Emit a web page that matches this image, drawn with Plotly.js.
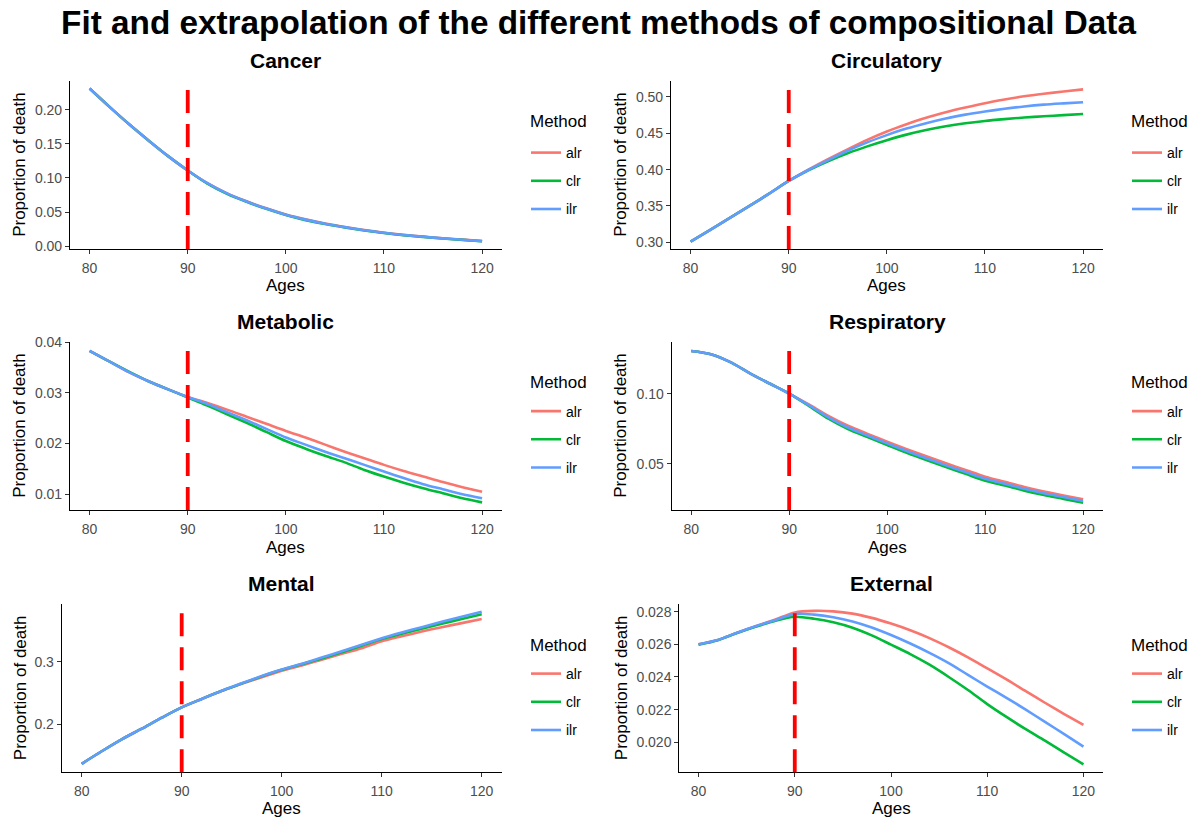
<!DOCTYPE html>
<html><head><meta charset="utf-8">
<script src="https://cdn.plot.ly/plotly-3.0.1.min.js"></script>
<style>html,body{margin:0;padding:0;background:#fff}#chart{width:1197px;height:818px}</style>
</head><body><div id="chart"></div>
<script>
// ---------------- DATA ----------------
const ages = [80,82,84,86,88,90,92,94,96,98,100,102,104,106,108,110,112,114,116,118,120];
const methods = ['alr','clr','ilr'];
const panelNames = ['Cancer','Circulatory','Metabolic','Respiratory','Mental','External'];
const fitEndAge = 90;

const cancerAlr = [0.231,0.2045,0.179,0.155,0.132,0.111,0.0925,0.0775,0.0659,0.0556,0.0466,0.0394,0.0334,0.0283,0.0238,0.0199,0.0167,0.0141,0.0118,0.0097,0.0077];
const cancerClr = [0.231,0.2045,0.179,0.155,0.132,0.111,0.0918,0.0768,0.0652,0.0548,0.0458,0.0383,0.0325,0.0276,0.0232,0.0194,0.0162,0.0137,0.0114,0.0094,0.0074];
const cancerIlr = [0.231,0.2045,0.179,0.155,0.132,0.111,0.0925,0.0775,0.0655,0.0552,0.0462,0.039,0.033,0.028,0.0235,0.0197,0.0165,0.0139,0.0116,0.0096,0.0076];

const circAlr = [0.301,0.317,0.3335,0.350,0.367,0.3844,0.400,0.4145,0.428,0.441,0.4525,0.4625,0.4715,0.479,0.4855,0.4915,0.4965,0.501,0.5045,0.5075,0.5105];
const circClr = [0.301,0.317,0.3335,0.350,0.367,0.3844,0.399,0.4115,0.4225,0.432,0.4405,0.4482,0.4545,0.4597,0.4638,0.467,0.4695,0.4717,0.4735,0.475,0.4765];
const circIlr = [0.301,0.317,0.3335,0.350,0.367,0.3844,0.3995,0.413,0.426,0.4375,0.4475,0.4565,0.464,0.4705,0.4757,0.48,0.4838,0.487,0.4895,0.4912,0.4927];

const metaAlr = [0.0383,0.0362,0.0341,0.0323,0.0307,0.0292,0.028,0.0267,0.0253,0.0239,0.0225,0.0212,0.0198,0.0184,0.0171,0.0158,0.0146,0.0135,0.0124,0.0114,0.0105];
const metaClr = [0.0383,0.0362,0.0342,0.0323,0.0307,0.0291,0.0275,0.0258,0.0241,0.0223,0.0205,0.019,0.0176,0.0163,0.0148,0.0135,0.0123,0.0112,0.0102,0.0092,0.0084];
const metaIlr = [0.0383,0.0362,0.0341,0.0323,0.0307,0.0292,0.0278,0.0262,0.0246,0.0229,0.0212,0.0198,0.0184,0.0171,0.0158,0.0145,0.0132,0.012,0.011,0.01,0.0092];

const respAlr = [0.1308,0.1285,0.1228,0.1148,0.1075,0.1003,0.0925,0.0843,0.0772,0.0714,0.0658,0.0604,0.0553,0.0503,0.0455,0.0407,0.037,0.0333,0.03,0.0272,0.0245];
const respClr = [0.1308,0.1285,0.1228,0.1148,0.1075,0.1003,0.0915,0.0823,0.0749,0.0691,0.0634,0.0578,0.0526,0.0476,0.0427,0.0378,0.0343,0.0307,0.0275,0.0248,0.022];
const respIlr = [0.1308,0.1285,0.1228,0.1148,0.1075,0.1003,0.092,0.0833,0.076,0.0702,0.0646,0.0591,0.0539,0.0488,0.044,0.0392,0.0357,0.032,0.0288,0.0261,0.0233];

const mentAlr = [0.137,0.157,0.176,0.193,0.2105,0.227,0.2405,0.253,0.2645,0.275,0.2855,0.294,0.303,0.3125,0.3215,0.3325,0.3405,0.348,0.355,0.3615,0.368];
const mentClr = [0.137,0.157,0.176,0.193,0.2105,0.227,0.2405,0.2535,0.265,0.2765,0.287,0.296,0.305,0.3148,0.3255,0.336,0.3445,0.3525,0.3605,0.368,0.3755];
const mentIlr = [0.137,0.157,0.176,0.193,0.2105,0.227,0.2405,0.2535,0.2655,0.277,0.2875,0.2965,0.3065,0.3165,0.327,0.3375,0.3465,0.355,0.3635,0.3715,0.3795];

const extAlr = [0.026,0.02627,0.02671,0.02712,0.02752,0.02795,0.02805,0.02802,0.02788,0.02762,0.02727,0.02686,0.02638,0.02582,0.0252,0.02453,0.02385,0.02313,0.02242,0.02173,0.02106];
const extClr = [0.02598,0.02625,0.02669,0.02709,0.02745,0.02769,0.02757,0.02735,0.02702,0.02655,0.02598,0.0254,0.02475,0.024,0.0232,0.02234,0.02155,0.0208,0.0201,0.01937,0.01865];
const extIlr = [0.026,0.02627,0.02671,0.02712,0.02749,0.02786,0.02782,0.02766,0.0274,0.02703,0.02657,0.02605,0.02548,0.02485,0.02413,0.02341,0.02272,0.022,0.02125,0.0205,0.01973];

const panelSeries = [
  [cancerAlr, cancerClr, cancerIlr],
  [circAlr, circClr, circIlr],
  [metaAlr, metaClr, metaIlr],
  [respAlr, respClr, respIlr],
  [mentAlr, mentClr, mentIlr],
  [extAlr, extClr, extIlr]
];

// ---------------- STYLE / LAYOUT ----------------
const FONT = 'Liberation Sans, Arial, Helvetica, sans-serif';
const colors = {alr:'#F8766D', clr:'#00BA38', ilr:'#619CFF'};
const W = 1197, H = 818;
const px = v => v / W;
const py = v => 1 - v / H;

// pixel boxes of each panel [left, right, top, bottom]
const boxes = [
  [70, 501.7, 80.7, 249],
  [671, 1102.7, 80.7, 249],
  [70, 501.7, 341.7, 510],
  [671.6, 1102.7, 341.7, 510],
  [61.7, 501.7, 604, 772.3],
  [679.3, 1102.7, 604, 772.3]
];
const yRanges = [[-0.004,0.2425],[0.2908,0.5224],[0.0069,0.0401],[0.0168,0.1375],[0.1234,0.392],[0.01816,0.02847]];
const yFormats = ['.2f','.2f','.2f','.2f','.1f','.3f'];
const yDticks = [0.05,0.05,0.01,0.05,0.1,0.002];
const legendLeft = [526,1127,526,1127,526,1127];
const legendTitleY = [121.7,121.7,382,382,645,645];
const legendTop = [137,137,395.5,395.5,658,658];
const titleY = [60.7,60.7,321.7,321.7,583.3,583.3];
const agesTitleY = [285,285,547.5,547.5,808,808];
const yTitleX = [20,621,20,621,20,621];

const traces = [];
const layout = {
  width: W, height: H,
  margin: {l:0, r:0, t:0, b:0},
  paper_bgcolor: '#fff', plot_bgcolor: '#fff',
  font: {family: FONT, color: '#000'},
  title: {text: 'Fit and extrapolation of the different methods of compositional Data',
          font: {family: FONT, size: 33.3, weight: 'bold', color: '#000'},
          x: 0.5, xanchor: 'center', y: 1 - 22/H, yanchor: 'middle'},
  showlegend: true,
  annotations: [],
  shapes: []
};

panelNames.forEach((name, i) => {
  const n = i + 1;
  const xa = n === 1 ? 'x' : 'x' + n;
  const ya = n === 1 ? 'y' : 'y' + n;
  const lg = n === 1 ? 'legend' : 'legend' + n;
  const [l, r, t, b] = boxes[i];
  methods.forEach((m, k) => {
    traces.push({
      type: 'scatter', mode: 'lines',
      x: ages, y: panelSeries[i][k],
      name: m, legend: lg, legendgroup: name + m,
      xaxis: xa, yaxis: ya,
      line: {color: colors[m], width: 2.6, shape: 'spline', smoothing: 0.8},
      hoverinfo: 'x+y+name'
    });
  });
  const axCommon = {
    showline: true, linecolor: '#000', linewidth: 1.1, mirror: false,
    ticks: 'outside', ticklen: 4, tickwidth: 1.1, tickcolor: '#333',
    showgrid: false, zeroline: false,
    tickfont: {family: FONT, size: 14, color: '#4D4D4D'}
  };
  layout[n === 1 ? 'xaxis' : 'xaxis' + n] = Object.assign({}, axCommon, {
    domain: [px(l), px(r)], anchor: ya, range: [78, 122],
    tickmode: 'linear', tick0: 80, dtick: 10, ticklabelstandoff: 2
  });
  layout[n === 1 ? 'yaxis' : 'yaxis' + n] = Object.assign({}, axCommon, {
    domain: [py(b), py(t)], anchor: xa, range: yRanges[i],
    tickmode: 'linear', tick0: 0, dtick: yDticks[i], tickformat: yFormats[i]
  });
  layout[lg] = {
    x: px(legendLeft[i]), xanchor: 'left', y: py(legendTop[i]), yanchor: 'top',
    xref: 'paper', yref: 'paper',
    bgcolor: 'rgba(0,0,0,0)', borderwidth: 0,
    font: {family: FONT, size: 14, color: '#000'},
    traceorder: 'grouped', tracegroupgap: 7
  };
  // legend title
  layout.annotations.push({
    text: 'Method', xref: 'paper', yref: 'paper',
    x: px(legendLeft[i] + 2), y: py(legendTitleY[i]), xanchor: 'left', yanchor: 'middle',
    showarrow: false, font: {family: FONT, size: 17, color: '#000'}
  });
  // fit / extrapolation boundary
  layout.shapes.push({
    type: 'line', xref: xa, yref: ya + ' domain',
    x0: fitEndAge, x1: fitEndAge, y0: 0, y1: 1,
    line: {color: '#FF0000', width: 3.8, dash: '23px,11px'}, layer: 'above'
  });
  // panel title
  layout.annotations.push({
    text: '<b>' + name + '</b>', xref: 'paper', yref: 'paper',
    x: px((l + r) / 2), y: py(titleY[i]), xanchor: 'center', yanchor: 'middle',
    showarrow: false, font: {family: FONT, size: 21, color: '#000'}
  });
  // x title
  layout.annotations.push({
    text: 'Ages', xref: 'paper', yref: 'paper',
    x: px((l + r) / 2), y: py(agesTitleY[i]), xanchor: 'center', yanchor: 'middle',
    showarrow: false, font: {family: FONT, size: 17, color: '#000'}
  });
  // y title
  layout.annotations.push({
    text: 'Proportion of death', xref: 'paper', yref: 'paper', textangle: -90,
    x: px(yTitleX[i]), y: py((t + b) / 2), xanchor: 'center', yanchor: 'middle',
    showarrow: false, font: {family: FONT, size: 17, color: '#000'}
  });
});

Plotly.newPlot('chart', traces, layout, {displayModeBar: false, responsive: false});
</script>
</body></html>
